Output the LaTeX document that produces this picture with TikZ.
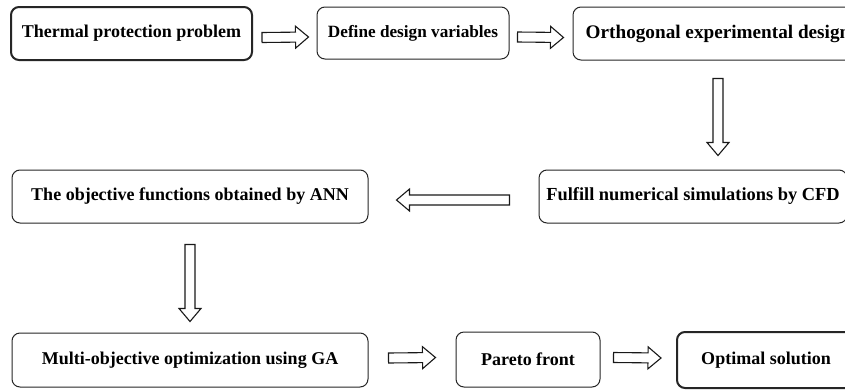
\documentclass[tikz,border=0pt]{standalone}
\usepackage{fontspec}
\setmainfont{Liberation Serif}
\usetikzlibrary{calc}
\tikzset{
  box/.style={draw=black!85, line width=1pt, rounded corners=8pt, inner sep=0pt,
    font=\fontsize{18}{22}\selectfont\bfseries, text=black},
  thickbox/.style={box, line width=2pt},
  barrow/.style={draw=black!90, line width=1.1pt, fill=white, line join=miter,
    to path={let \p1=(\tikztostart), \p2=(\tikztotarget),
      \n1={veclen(\x2-\x1,\y2-\y1)}, \n2={(\x2-\x1)/\n1}, \n3={(\y2-\y1)/\n1} in
      (\x1-\n3*5,\y1+\n2*5)
      -- (\x2-\n2*13-\n3*5,\y2-\n3*13+\n2*5)
      -- (\x2-\n2*13-\n3*11,\y2-\n3*13+\n2*11)
      -- (\x2,\y2)
      -- (\x2-\n2*13+\n3*11,\y2-\n3*13-\n2*11)
      -- (\x2-\n2*13+\n3*5,\y2-\n3*13-\n2*5)
      -- (\x1+\n3*5,\y1-\n2*5) -- cycle}}
}
\begin{document}
\begin{tikzpicture}[x=1pt,y=-1pt]
\useasboundingbox (0,0) rectangle (845,391);
\fill[white] (0,0) rectangle (845,391);
\node[thickbox, minimum width=241, minimum height=53] (thermal) at (131.5,33.5) {Thermal protection problem};
\node[box, minimum width=192, minimum height=52, font=\fontsize{17.2}{21}\selectfont\bfseries] (define) at (413,33) {Define design variables};
\node[box, minimum width=290, minimum height=53, font=\fontsize{19.2}{23}\selectfont\bfseries] (ortho) at (718,33.5) {Orthogonal experimental design};
\node[box, minimum width=308, minimum height=53, font=\fontsize{18.4}{22}\selectfont\bfseries] (fulfill) at (693,196.5) {Fulfill numerical simulations by CFD};
\node[box, minimum width=356, minimum height=53] (ann) at (190,196.5) {The objective functions obtained by ANN};
\node[box, minimum width=356, minimum height=54] (ga) at (190,360) {Multi-objective optimization using GA};
\node[box, minimum width=144, minimum height=55] (pareto) at (528,359.5) {Pareto front};
\node[thickbox, minimum width=178, minimum height=56] (optimal) at (766,360) {Optimal solution};

\coordinate (a1s) at ($(thermal.east)+(9,4)$);
\coordinate (a1e) at ($(define.west)+(-8,4)$);
\coordinate (a2s) at ($(define.east)+(8,4)$);
\coordinate (a2e) at ($(ortho.west)+(-9,4)$);
\coordinate (a3s) at ($(ortho.south)+(0,18)$);
\coordinate (a3e) at ($(ortho.south |- fulfill.north)+(0,-14)$);
\coordinate (a4s) at ($(fulfill.west)+(-29,3.5)$);
\coordinate (a4e) at ($(ann.east)+(28,3.5)$);
\coordinate (a5s) at ($(ann.south)+(0,21)$);
\coordinate (a5e) at ($(ann.south |- ga.north)+(0,-11)$);
\coordinate (a6s) at ($(ga.east)+(20,-2)$);
\coordinate (a6e) at ($(pareto.west)+(-20,-2)$);
\coordinate (a7s) at ($(pareto.east)+(13,-2)$);
\coordinate (a7e) at ($(optimal.west)+(-15,-2)$);

\draw[barrow] (a1s) to (a1e);
\draw[barrow] (a2s) to (a2e);
\draw[barrow] (a3s) to (a3e);
\draw[barrow] (a4s) to (a4e);
\draw[barrow] (a5s) to (a5e);
\draw[barrow] (a6s) to (a6e);
\draw[barrow] (a7s) to (a7e);
\end{tikzpicture}
\end{document}
